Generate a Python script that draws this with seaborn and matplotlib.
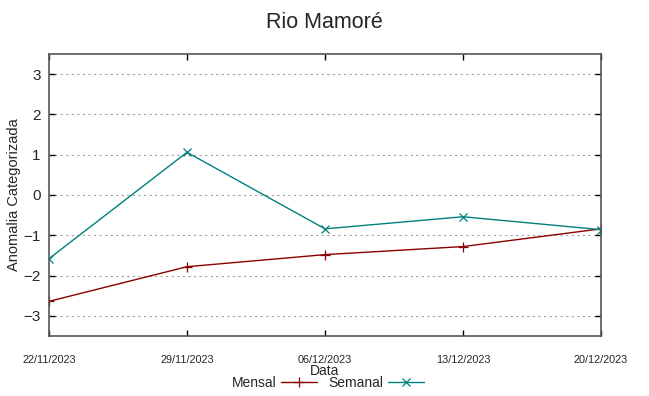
import matplotlib
matplotlib.use("Agg")
import matplotlib.pyplot as plt
import seaborn as sns
import pandas as pd

dates = ["2023-11-22", "2023-11-29", "2023-12-06", "2023-12-13", "2023-12-20"]
tick_labels = ["22/11/2023", "29/11/2023", "06/12/2023", "13/12/2023", "20/12/2023"]
mensal = [-2.64, -1.78, -1.48, -1.28, -0.84]
semanal = [-1.58, 1.06, -0.84, -0.54, -0.86]

sns.set_theme(style="white")
plt.rcParams['font.family'] = ['Liberation Sans', 'DejaVu Sans']

df = pd.DataFrame({"Data": pd.to_datetime(dates), "Mensal": mensal, "Semanal": semanal})

fig = plt.figure(figsize=(6.49, 3.96), dpi=100)
ax = fig.add_axes([49/649, 60/396, (601-49)/649, (336-54)/396])

sns.lineplot(data=df, x="Data", y="Mensal", ax=ax, color="#8b0000", lw=1.0,
             marker="+", markersize=7, markeredgewidth=0.9, markeredgecolor="#8b0000",
             label="Mensal")
sns.lineplot(data=df, x="Data", y="Semanal", ax=ax, color="#008080", lw=1.0,
             marker="x", markersize=5.5, markeredgewidth=0.9, markeredgecolor="#008080",
             label="Semanal")

ax.set_ylim(-3.5, 3.5)
ax.set_xlim(df["Data"].iloc[0], df["Data"].iloc[-1])
ax.set_yticks([-3, -2, -1, 0, 1, 2, 3])
ax.set_xticks(df["Data"])
ax.set_xticklabels(tick_labels, fontsize=7.8)
ax.tick_params(axis='y', labelsize=11, direction='in', length=4, width=1, color='black',
               right=True, left=True, pad=6)
ax.tick_params(axis='x', direction='in', length=4, width=1, color='black', top=True, bottom=True, pad=14)
ax.grid(axis='y', linestyle=(0, (2, 3)), color='#a0a0a0', lw=0.8)
ax.grid(axis='x', visible=False)
for s in ax.spines.values():
    s.set_color('#555555')
    s.set_linewidth(1.2)

ax.set_ylabel("Anomalia Categorizada", fontsize=10.5)
ax.yaxis.set_label_coords(-0.05, 0.5)
ax.set_xlabel("Data", fontsize=10)
ax.xaxis.set_label_coords(0.5, -0.1)
fig.suptitle("Rio Mamoré", fontsize=15.5, y=0.97)

leg = ax.legend(loc='center', bbox_to_anchor=(0.505, -0.165), ncol=2, frameon=False,
                markerfirst=False, handlelength=2.6, columnspacing=0.85, handletextpad=0.3,
                prop={'size': 10}, borderaxespad=0, borderpad=0)

fig.savefig("out.png", dpi=100)
